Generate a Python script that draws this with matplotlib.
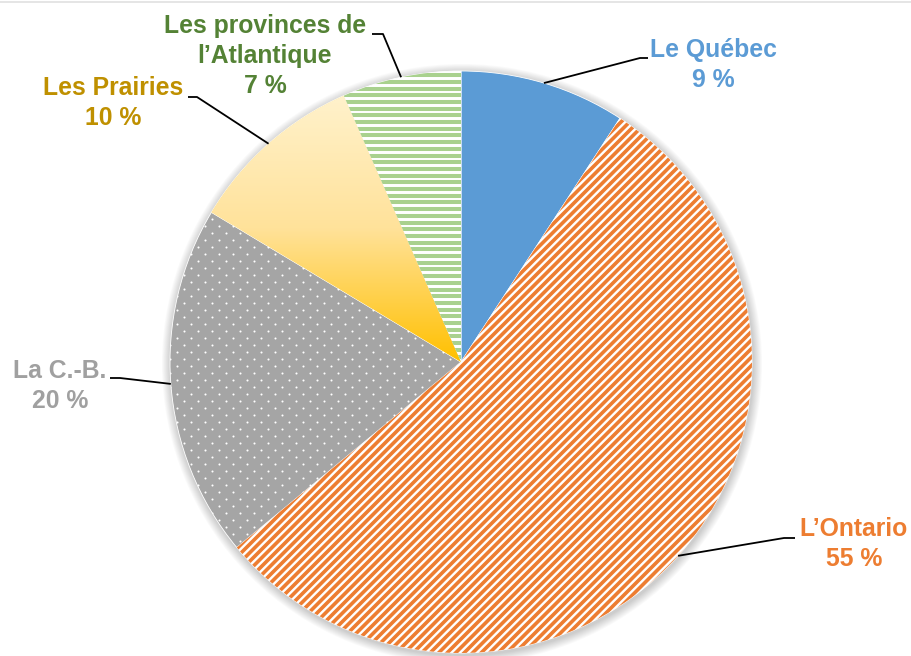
import numpy as np
import matplotlib
matplotlib.use("Agg")
import matplotlib.pyplot as plt
from matplotlib.colors import LinearSegmentedColormap
from matplotlib.collections import LineCollection
from matplotlib.patches import Circle
from matplotlib.lines import Line2D

# ---- data ----
regions = ["Le Québec", "L\u2019Ontario", "La C.-B.", "Les Prairies",
           "Les provinces de\nl\u2019Atlantique"]
shares = [9.2, 54.8, 19.6, 9.8, 6.6]
share_labels = ["9 %", "55 %", "20 %", "10 %", "7 %"]

# ---- styles ----
W, H = 912, 656
base_colors = ["#5B9BD5", "white", "#A5A5A5", "#FFC000", "white"]
text_colors = ["#5B9BD5", "#ED7D31", "#A0A0A0", "#BF9000", "#548235"]
CX, CY, R = 461, H - 362, 291
# label layout (pixel coordinates from the top-left)
label_pos = [(713, 65), (854, 544), (60, 386), (113, 103), (265, 56)]
elbow_pos = [(640, 58), (784, 538), (120, 378), (197, 97), (383, 34)]
end_pos = [(648, 58), (795, 538), (110, 378), (188, 97), (372, 34)]

plt.rcParams["font.family"] = ["Liberation Sans", "DejaVu Sans"]
fig = plt.figure(figsize=(W / 100, H / 100), dpi=100)
ax = fig.add_axes([0, 0, 1, 1])

# soft shadow
for k in range(10):
    ax.add_patch(Circle((CX + 1, CY - 2), R + 1 + k * 0.9, color="black",
                        alpha=0.018, lw=0, zorder=0))

wedges, _ = ax.pie(shares, startangle=90, counterclock=False,
                   center=(CX, CY), radius=R, colors=base_colors,
                   wedgeprops=dict(edgecolor="white", linewidth=0.6))
for w in wedges:
    w.set_zorder(1)

# Ontario: orange diagonal stripes
w_on = wedges[1]
step = 8.5
cs = np.arange(-2 * W, 2 * W, step)
segs = [[(x0, CY - R - 10), (x0 + 2 * R + 40, CY - R - 10 + 2 * R + 40)] for x0 in cs]
lc = LineCollection(segs, colors="#ED7D31", linewidths=2.6, zorder=2)
ax.add_collection(lc)
lc.set_clip_path(w_on)

# Atlantic: green horizontal stripes
w_at = wedges[4]
ys = np.arange(CY - R - 5, CY + R + 5, 6.7)
segs = [[(CX - R - 5, y), (CX + R + 5, y)] for y in ys]
lc2 = LineCollection(segs, colors="#A9D18E", linewidths=2.9, zorder=2)
ax.add_collection(lc2)
lc2.set_clip_path(w_at)

# C.-B.: white dots on grey
w_cb = wedges[2]
pts = []
for i, y in enumerate(np.arange(CY - R, CY + R, 7.0)):
    off = 7.0 if i % 2 else 0.0
    for x in np.arange(CX - R + off, CX + R, 14.0):
        pts.append((x, y))
pts = np.array(pts)
sc = ax.scatter(pts[:, 0], pts[:, 1], s=2.2, c="white", linewidths=0, zorder=2)
sc.set_clip_path(w_cb)

# Prairies: vertical gradient
w_pr = wedges[3]
cmap = LinearSegmentedColormap.from_list("pr", ["#FFC000", "#FFE29A", "#FFF2CC"])
grad = np.linspace(0, 1, 256).reshape(-1, 1)
im = ax.imshow(grad, extent=(CX - R, CX, CY, CY + R * 0.92), origin="lower",
               cmap=cmap, aspect="auto", zorder=1.5, interpolation="bilinear")
im.set_clip_path(w_pr)

# labels and leader lines
for w, name, pct, col, lp, ep, np_ in zip(wedges, regions, share_labels,
                                          text_colors, label_pos, elbow_pos, end_pos):
    mid = np.deg2rad((w.theta1 + w.theta2) / 2)
    sx, sy = CX + R * np.cos(mid), CY + R * np.sin(mid)
    ax.plot([sx, ep[0], np_[0]], [sy, H - ep[1], H - np_[1]],
            color="black", lw=1.3, zorder=3, solid_capstyle="butt")
    ax.text(lp[0], H - lp[1], f"{name}\n{pct}", ha="center", va="center",
            color=col, fontsize=17.8, fontweight="bold", linespacing=1.3, zorder=4)

ax.set_xlim(0, W)
ax.set_ylim(0, H)
ax.set_aspect("equal")
ax.set_axis_off()

fig.add_artist(Line2D([0, 1], [1 - 2 / H, 1 - 2 / H], color="#E0E0E0", lw=1.2))

fig.savefig("out.png", dpi=100)
